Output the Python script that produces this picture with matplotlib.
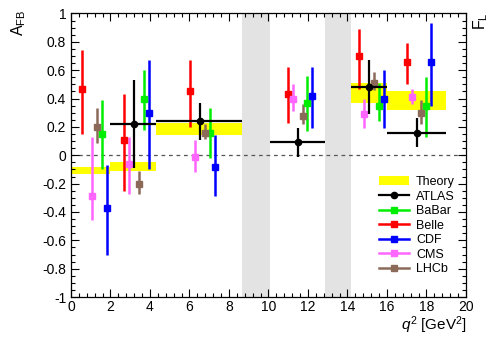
import matplotlib
matplotlib.use('Agg')
import matplotlib.pyplot as plt
from matplotlib.patches import Patch
from matplotlib.lines import Line2D
from matplotlib.ticker import MultipleLocator, FuncFormatter

plt.rcParams['font.family'] = ['Liberation Sans', 'DejaVu Sans']
plt.rcParams['mathtext.fontset'] = 'custom'
plt.rcParams['mathtext.rm'] = 'Liberation Sans'
plt.rcParams['mathtext.it'] = 'Liberation Sans:italic'

# charmonium veto regions in q^2
veto_bands = [(8.68, 10.09), (12.86, 14.18)]

# theory prediction: bin edges and band (low, high)
theory_lo_edge = [0.0, 2.0, 4.3, 14.18, 16.0]
theory_hi_edge = [2.0, 4.3, 8.68, 16.0, 19.0]
theory_low = [-0.13, -0.11, 0.14, 0.37, 0.32]
theory_high = [-0.08, -0.05, 0.23, 0.51, 0.45]

# ATLAS: bins, value, symmetric error
atlas_lo = [2.0, 4.3, 10.09, 14.18, 16.0]
atlas_hi = [4.3, 8.68, 12.86, 16.0, 19.0]
atlas_x = [3.19, 6.53, 11.51, 15.1, 17.5]
atlas_val = [0.22, 0.24, 0.09, 0.48, 0.16]
atlas_err = [0.31, 0.13, 0.10, 0.19, 0.10]

# other experiments: x position, value, upper and lower ends of the error bar
babar_x = [1.57, 3.71, 7.04, 11.97, 15.58, 18.0]
babar_val = [0.15, 0.40, 0.155, 0.37, 0.345, 0.345]
babar_top = [0.39, 0.60, 0.335, 0.56, 0.51, 0.55]
babar_bot = [-0.10, 0.175, -0.02, 0.17, 0.24, 0.13]

belle_x = [0.57, 2.70, 6.03, 11.0, 14.58, 17.01]
belle_val = [0.47, 0.11, 0.45, 0.43, 0.70, 0.66]
belle_top = [0.74, 0.43, 0.67, 0.62, 0.89, 0.79]
belle_bot = [0.15, -0.25, 0.20, 0.23, 0.47, 0.50]

cdf_x = [1.81, 3.95, 7.27, 12.22, 15.83, 18.24]
cdf_val = [-0.37, 0.30, -0.08, 0.42, 0.40, 0.66]
cdf_top = [-0.07, 0.67, 0.14, 0.62, 0.60, 0.93]
cdf_bot = [-0.70, -0.10, -0.29, 0.19, 0.19, 0.345]

cms_x = [1.06, 2.95, 6.28, 11.24, 14.85, 17.25]
cms_val = [-0.29, -0.06, -0.01, 0.40, 0.29, 0.41]
cms_top = [0.13, 0.13, 0.11, 0.50, 0.40, 0.47]
cms_bot = [-0.46, -0.27, -0.12, 0.31, 0.19, 0.36]

lhcb_x = [1.32, 3.44, 6.78, 11.73, 15.34, 17.74]
lhcb_val = [0.20, -0.20, 0.16, 0.28, 0.51, 0.30]
lhcb_top = [0.33, -0.11, 0.22, 0.36, 0.59, 0.39]
lhcb_bot = [0.085, -0.27, 0.115, 0.22, 0.46, 0.22]

experiments = [
    ('BaBar', '#00ee00', babar_x, babar_val, babar_top, babar_bot),
    ('Belle', '#ff0000', belle_x, belle_val, belle_top, belle_bot),
    ('CDF', '#0000ff', cdf_x, cdf_val, cdf_top, cdf_bot),
    ('CMS', '#ff66ff', cms_x, cms_val, cms_top, cms_bot),
    ('LHCb', '#8c6a5a', lhcb_x, lhcb_val, lhcb_top, lhcb_bot),
]

fig = plt.figure(figsize=(4.94, 3.45), dpi=100)
ax = fig.add_axes([0.1437, 0.139, 0.7996, 0.822])

for lo, hi in veto_bands:
    ax.axvspan(lo, hi, color='#e3e3e3', lw=0, zorder=0)

for x0, x1, y0, y1 in zip(theory_lo_edge, theory_hi_edge, theory_low, theory_high):
    ax.fill_between([x0, x1], y0, y1, color='#ffff00', lw=0, zorder=1)

ax.axhline(0, color='#555555', lw=0.9, ls=(0, (3, 3)), zorder=1.5)

for name, col, xs, vals, tops, bots in experiments:
    yerr = [[v - b for v, b in zip(vals, bots)], [t - v for v, t in zip(vals, tops)]]
    ax.errorbar(xs, vals, yerr=yerr, fmt='s', color=col, ms=4.5, lw=1.8,
                capsize=0, zorder=3)

xerr = [[x - lo for x, lo in zip(atlas_x, atlas_lo)],
        [hi - x for x, hi in zip(atlas_x, atlas_hi)]]
ax.errorbar(atlas_x, atlas_val, xerr=xerr, yerr=atlas_err, fmt='o', color='black',
            ms=4.5, lw=1.6, capsize=0, zorder=4)

ax.set_xlim(0, 20)
ax.set_ylim(-1, 1)
ax.xaxis.set_major_locator(MultipleLocator(2))
ax.xaxis.set_minor_locator(MultipleLocator(0.4))
ax.yaxis.set_major_locator(MultipleLocator(0.2))
ax.yaxis.set_minor_locator(MultipleLocator(0.05))
ax.yaxis.set_major_formatter(FuncFormatter(lambda v, p: f'{v:g}' if abs(v) > 1e-9 else '0'))
ax.tick_params(which='both', direction='in', top=True, right=True, labelsize=10)
ax.tick_params(which='major', length=5.5, width=0.8)
ax.tick_params(which='minor', length=3, width=0.8)
ax.tick_params(axis='x', pad=2)
for s in ax.spines.values():
    s.set_linewidth(0.9)

fig.text(0.037, 0.935, r'$\mathregular{A_{FB}}$', rotation=90, ha='center', va='center', fontsize=11.5)
fig.text(0.972, 0.94, r'$\mathregular{F_{L}}$', rotation=90, ha='center', va='center', fontsize=11.5)
fig.text(0.945, 0.058, r'$q^2$ [GeV$^2$]', ha='right', va='center', fontsize=11)

handles = [Patch(facecolor='#ffff00', edgecolor='none', label='Theory'),
           Line2D([], [], color='black', marker='o', ms=4.5, lw=1.6, label='ATLAS')]
for name, col, *_ in experiments:
    handles.append(Line2D([], [], color=col, marker='s', ms=4.5, lw=1.8, label=name))
ax.legend(handles=handles, loc='lower right', bbox_to_anchor=(0.985, 0.06), frameon=False,
          fontsize=9, handlelength=2.4, handletextpad=0.6, labelspacing=0.2,
          borderaxespad=0)

fig.savefig('out.png', dpi=100)
